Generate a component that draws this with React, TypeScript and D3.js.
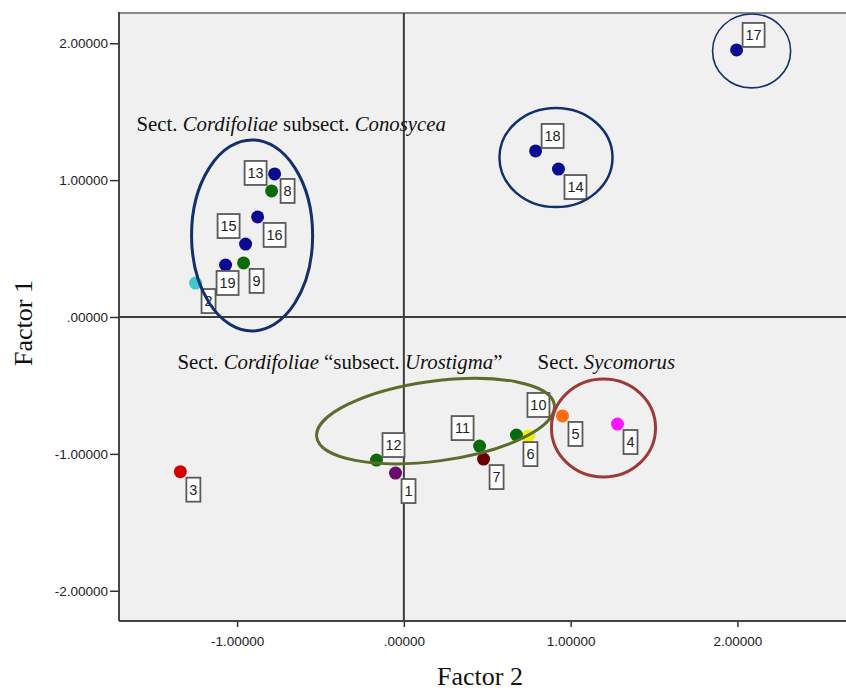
import React, { useEffect, useRef } from 'react';
import * as d3 from 'd3';

// Specimen scores (Factor 2 = x, Factor 1 = y)
const specimenIds = [1, 2, 3, 4, 5, 6, 7, 8, 9, 10, 11, 12, 13, 14, 15, 16, 17, 18, 19];
const factor2Scores = [-0.05, -1.249, -1.34, 1.281, 0.951, 0.747, 0.478, -0.793, -0.961, 0.675, 0.454, -0.164, -0.775, 0.927, -0.949, -0.877, 1.995, 0.79, -1.069];
const factor1Scores = [-1.14, 0.248, -1.13, -0.782, -0.723, -0.87, -1.038, 0.921, 0.395, -0.862, -0.943, -1.045, 1.045, 1.081, 0.533, 0.731, 1.951, 1.213, 0.38];
const specimenColors = [
  '#6a0a6e', '#3fc8cc', '#d40000', '#ff14ff', '#ff6a12', '#f2ee00', '#6b0000',
  '#0b6b0b', '#0b6b0b', '#0b6b0b', '#0b6b0b', '#0b6b0b',
  '#0b0b8f', '#0b0b8f', '#0b0b8f', '#0b0b8f', '#0b0b8f', '#0b0b8f', '#0b0b8f'
];

// where the number box sits relative to its dot
const labelPlacement = ['br', 'br', 'br', 'br', 'br', 'b', 'br', 'r', 'br', 'far', 'tl', 'tr', 'l', 'br', 'tl', 'br', 'tr', 'tr', 'b'];

const xTicks = [-1, 0, 1, 2];
const yTicks = [-2, -1, 0, 1, 2];

// group outlines (centre and radii in factor units)
const groupNames = ['Conosycea', 'pair', 'single', 'Urostigma', 'Sycomorus'];
const groupCx = [-0.91, 0.912, 2.085, 0.19, 1.197];
const groupCy = [0.596, 1.165, 1.944, -0.76, -0.811];
const groupRx = [0.363, 0.339, 0.234, 0.719, 0.312];
const groupRy = [0.698, 0.362, 0.27, 0.292, 0.358];
const groupAngle = [0, 0, 0, -7.7, 0];
const groupColors = ['#13306c', '#13306c', '#13306c', '#5b6d2c', '#9c3b37'];
const groupWidths = [3, 2.5, 1.6, 3, 3];

const App = () => {
  const ref = useRef<SVGSVGElement>(null);

  useEffect(() => {
    const width = 846;
    const height = 693;
    const left = 119, top = 13, right = 850, bottom = 621;

    const svg = d3.select(ref.current);
    svg.selectAll('*').remove();
    svg.attr('width', width).attr('height', height);

    const x = d3.scaleLinear().domain([-1.708, 2.675]).range([left, right]);
    const y = d3.scaleLinear().domain([-2.221, 2.221]).range([bottom, top]);

    svg.append('rect')
      .attr('width', width).attr('height', height).attr('fill', '#ffffff');

    // plot background
    svg.append('rect')
      .attr('x', left).attr('y', top)
      .attr('width', right - left).attr('height', bottom - top)
      .attr('fill', '#f0f0f0');

    svg.append('line')
      .attr('x1', left).attr('x2', right).attr('y1', top).attr('y2', top)
      .attr('stroke', '#8a8a8a').attr('stroke-width', 2);

    const fmt = (d: number) => (d === 0 ? '.00000' : d.toFixed(5));

    // axes
    const xAxis = svg.append('g')
      .attr('transform', `translate(0,${bottom})`)
      .call(d3.axisBottom(x).tickValues(xTicks).tickFormat(fmt as any).tickSize(6).tickPadding(9));
    const yAxis = svg.append('g')
      .attr('transform', `translate(${left},0)`)
      .call(d3.axisLeft(y).tickValues(yTicks).tickFormat(fmt as any).tickSize(9).tickPadding(2));

    [xAxis, yAxis].forEach(g => {
      g.select('.domain').remove();
      g.selectAll('line').attr('stroke', '#333').attr('stroke-width', 1.5);
      g.selectAll('text')
        .attr('fill', '#222')
        .style('font-family', '"Liberation Sans", Arial, sans-serif')
        .style('font-size', '13.5px');
    });

    svg.append('line')
      .attr('x1', left).attr('x2', left).attr('y1', top - 1).attr('y2', bottom)
      .attr('stroke', '#333').attr('stroke-width', 1.8);
    svg.append('line')
      .attr('x1', left).attr('x2', right).attr('y1', bottom).attr('y2', bottom)
      .attr('stroke', '#444').attr('stroke-width', 2.2);

    // zero reference lines
    svg.append('line')
      .attr('x1', x(0)).attr('x2', x(0)).attr('y1', top).attr('y2', bottom)
      .attr('stroke', '#3c3c3c').attr('stroke-width', 2);
    svg.append('line')
      .attr('x1', left).attr('x2', right).attr('y1', y(0)).attr('y2', y(0))
      .attr('stroke', '#3c3c3c').attr('stroke-width', 2);

    // axis titles
    svg.append('text')
      .attr('transform', `translate(32, 323) rotate(-90)`)
      .attr('text-anchor', 'middle')
      .style('font-family', '"Liberation Serif", "Times New Roman", serif')
      .style('font-size', '26px')
      .attr('fill', '#111')
      .text('Factor 1');
    svg.append('text')
      .attr('x', 480).attr('y', 685)
      .attr('text-anchor', 'middle')
      .style('font-family', '"Liberation Serif", "Times New Roman", serif')
      .style('font-size', '26px')
      .attr('fill', '#111')
      .text('Factor 2');

    // points
    const points = specimenIds.map((id, i) => ({
      id, fx: factor2Scores[i], fy: factor1Scores[i], color: specimenColors[i], place: labelPlacement[i]
    }));

    svg.append('g')
      .selectAll('circle')
      .data(points)
      .enter()
      .append('circle')
      .attr('cx', d => x(d.fx))
      .attr('cy', d => y(d.fy))
      .attr('r', 6.5)
      .attr('fill', d => d.color);

    // number boxes
    const boxH = 24;
    const boxPos = (d: any) => {
      const w = String(d.id).length > 1 ? 22 : 14;
      const px = x(d.fx), py = y(d.fy);
      switch (d.place) {
        case 'tr': return { bx: px + 6, by: py - 3 - boxH, w };
        case 'tl': return { bx: px - 6 - w, by: py - 6 - boxH, w };
        case 'l': return { bx: px - 8 - w, by: py - 1 - boxH / 2, w };
        case 'r': return { bx: px + 9, by: py - boxH / 2, w };
        case 'b': return { bx: px + 2 - w / 2, by: py + 6, w };
        case 'far': return { bx: px + 11, by: py - 18 - boxH, w };
        default: return { bx: px + 6, by: py + 6, w };
      }
    };

    const labels = svg.append('g')
      .selectAll('g')
      .data(points)
      .enter()
      .append('g')
      .attr('transform', d => {
        const b = boxPos(d);
        return `translate(${b.bx},${b.by})`;
      });

    labels.append('rect')
      .attr('width', d => boxPos(d).w)
      .attr('height', boxH)
      .attr('fill', '#ffffff')
      .attr('stroke', '#5a5a5a')
      .attr('stroke-width', 1.8);

    labels.append('text')
      .attr('x', d => boxPos(d).w / 2)
      .attr('y', boxH / 2 + 5)
      .attr('text-anchor', 'middle')
      .style('font-family', '"Liberation Sans", Arial, sans-serif')
      .style('font-size', '14.5px')
      .attr('fill', '#222')
      .text(d => d.id);

    // group outlines
    svg.append('g')
      .selectAll('ellipse')
      .data(groupNames.map((name, i) => ({ name, i })))
      .enter()
      .append('ellipse')
      .attr('cx', 0).attr('cy', 0)
      .attr('rx', d => x(groupRx[d.i]) - x(0))
      .attr('ry', d => y(0) - y(groupRy[d.i]))
      .attr('transform', d => `translate(${x(groupCx[d.i])},${y(groupCy[d.i])}) rotate(${groupAngle[d.i]})`)
      .attr('fill', 'none')
      .attr('stroke', d => groupColors[d.i])
      .attr('stroke-width', d => groupWidths[d.i]);

    // group captions
    const caption = (fx: number, fy: number, parts: [string, boolean][]) => {
      const t = svg.append('text')
        .attr('x', x(fx)).attr('y', y(fy))
        .style('font-family', '"Liberation Serif", "Times New Roman", serif')
        .style('font-size', '20.8px')
        .attr('fill', '#111');
      parts.forEach(([s, it]) => {
        t.append('tspan')
          .style('font-style', it ? 'italic' : 'normal')
          .text(s);
      });
    };

    caption(-1.603, 1.359, [['Sect. ', false], ['Cordifoliae', true], [' subsect. ', false], ['Conosycea', true]]);
    caption(-1.357, -0.38, [['Sect. ', false], ['Cordifoliae', true], [' \u201Csubsect. ', false], ['Urostigma', true], ['\u201D', false]]);
    caption(0.802, -0.38, [['Sect. ', false], ['Sycomorus', true]]);
  }, []);

  return (
    <svg
      ref={ref}
      style={{ position: 'absolute', left: 0, top: 0, display: 'block' }}
    />
  );
};

export default App;
